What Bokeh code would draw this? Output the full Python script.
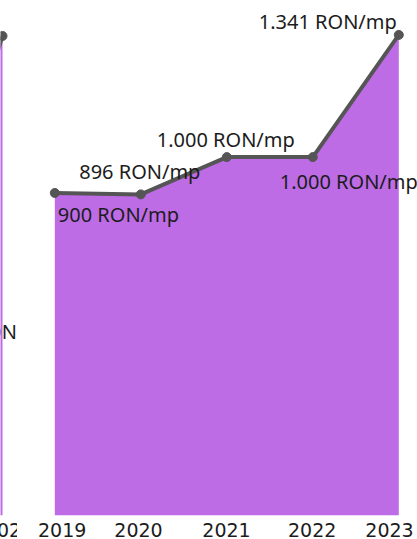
from bokeh.plotting import figure
from bokeh.layouts import row
from bokeh.models import (ColumnDataSource, LabelSet, FixedTicker,
                          CustomJSTickFormatter, Range1d, AllLabels)
from bokeh.core.properties import value
from bokeh.embed import file_html
from bokeh.resources import INLINE

# ---- data -------------------------------------------------------------
years = [2019, 2020, 2021, 2022, 2023]
prices = [900, 896, 1000, 1000, 1341]
price_labels = ["900 RON/mp", "896 RON/mp", "1.000 RON/mp",
                "1.000 RON/mp", "1.341 RON/mp"]

# neighbouring panel, cut off at the left edge of the picture
prev_years = [2022, 2023]
prev_prices = [577, 1338]
prev_labels = ["577 RON/mp", "1.338 RON/mp"]

# ---- styles -----------------------------------------------------------
PURPLE = "#BD6CE6"
LINE = "#555555"
TXT = "#1c1c1c"
LBL_FONT = "Noto Sans"
TICK_FONT = "DejaVu Sans"
H = 539
Y_END = 1437
PX_PER_YEAR = 86

# label placement (screen px) per point
lbl_align = ["left", "center", "center", "center", "right"]
lbl_dx = [3, -1, -1, 36, -2]
lbl_dy = [-22, 23, 18, -24, 13]
tick_nudge = [0.086, -0.027, -0.003, -0.007, -0.108]

prev_align = ["right", "right"]
prev_dx = [139, -2]
prev_dy = [-23, 13]


def make_fig(width, x0, x1):
    p = figure(width=width, height=H, x_range=Range1d(x0, x1),
               y_range=Range1d(0, Y_END), output_backend="svg",
               toolbar_location=None, y_axis_location=None,
               min_border=0, min_border_left=0, min_border_right=0,
               min_border_top=0, min_border_bottom=0)
    p.outline_line_color = None
    p.grid.visible = False
    ax = p.xaxis[0]
    ax.axis_line_color = None
    ax.major_tick_line_color = None
    ax.minor_tick_line_color = None
    ax.major_tick_out = 0
    ax.major_tick_in = 0
    ax.minor_tick_out = 0
    ax.minor_tick_in = 0
    ax.major_label_standoff = 7
    ax.major_label_text_font = TICK_FONT
    ax.major_label_text_font_size = "19px"
    ax.major_label_text_color = TXT
    ax.major_label_policy = AllLabels()
    ax.formatter = CustomJSTickFormatter(code="return Math.round(tick).toString();")
    return p


def draw(p, xs, ys, labels, align, dx, dy):
    src = ColumnDataSource(dict(x=xs, y=ys, lbl=labels, al=align, dx=dx, dy=dy))
    p.varea(x="x", y1=0, y2="y", source=src, fill_color=PURPLE)
    p.line(x="x", y="y", source=src, line_color=LINE, line_width=4)
    p.scatter(x="x", y="y", source=src, size=9, fill_color=LINE, line_color=LINE)
    p.add_layout(LabelSet(x="x", y="y", text="lbl", source=src,
                          text_align="al", x_offset="dx", y_offset="dy",
                          text_baseline="middle",
                          text_font=value(LBL_FONT),
                          text_font_size=value("20px"),
                          text_color=TXT))


# left (cut-off) panel: canvas 0..17, its 2023 point near the left edge
LW = 17
left = make_fig(LW, 2023 - 2 / PX_PER_YEAR, 2023 + (LW - 2) / PX_PER_YEAR)
lax = left.xaxis[0]
lax.ticker = FixedTicker(ticks=[])
lax.axis_label = str(prev_years[-1])          # its (cut-off) year label
lax.axis_label_standoff = 7
lax.axis_label_text_font = TICK_FONT
lax.axis_label_text_font_size = "19px"
lax.axis_label_text_font_style = "normal"
lax.axis_label_text_color = TXT
try:
    lax.axis_label_align = "right"
except Exception:
    pass
draw(left, prev_years, prev_prices, prev_labels, prev_align, prev_dx, prev_dy)

# main panel: canvas 17..417
MW = 417 - LW
main = make_fig(MW, 2019 - (54.3 - LW) / PX_PER_YEAR,
                2023 + (417 - 398.3) / PX_PER_YEAR)
main.xaxis[0].ticker = FixedTicker(ticks=[y + n for y, n in zip(years, tick_nudge)])
draw(main, years, prices, price_labels, lbl_align, lbl_dx, lbl_dy)

layout = row(left, main, spacing=0)

open("out.html", "w").write(file_html(layout, INLINE))
